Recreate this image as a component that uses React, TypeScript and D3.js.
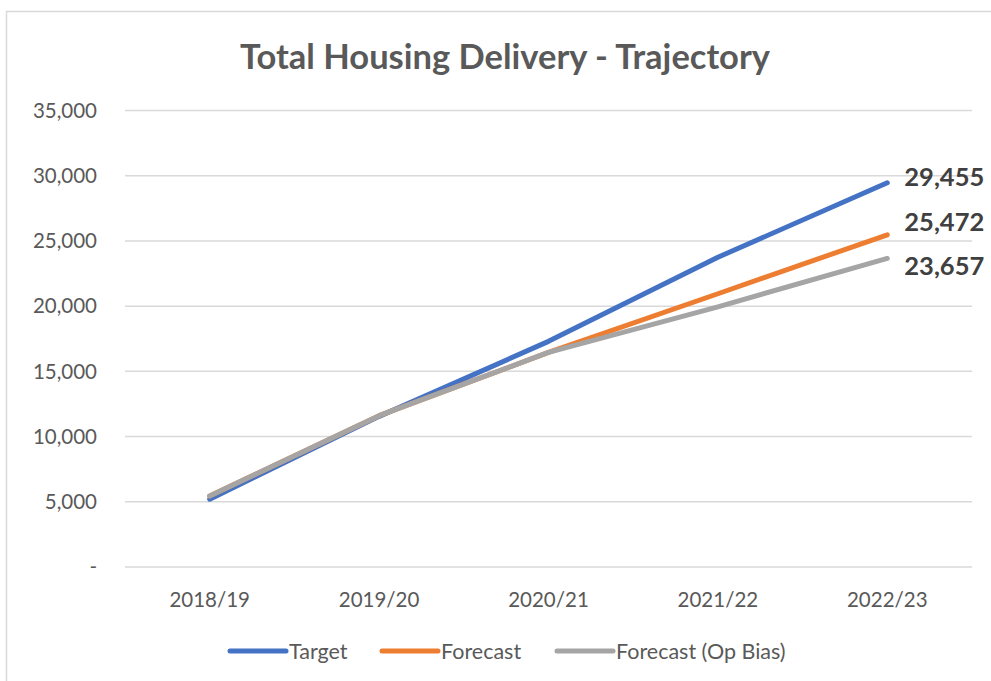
import React from "react";
import * as d3 from "d3";

const categories = ["2018/19", "2019/20", "2020/21", "2021/22", "2022/23"];
const targetValues = [5200, 11550, 17300, 23750, 29455];
const forecastValues = [5450, 11600, 16450, 20950, 25472];
const opBiasValues = [5450, 11600, 16450, 19950, 23657];
const seriesNames = ["Target", "Forecast", "Forecast (Op Bias)"];
const yTicks = [0, 5000, 10000, 15000, 20000, 25000, 30000, 35000];

const colors = ["#4472C4", "#ED7D31", "#A5A5A5"];
const labelDy = [-6, -13, 8];

export default function App() {
  const W = 991, H = 681;
  const left = 125, right = 972, top = 110.5, bottom = 567;
  const x = d3.scaleBand<string>().domain(categories).range([left, right]);
  const y = d3.scaleLinear().domain([0, 35000]).range([bottom, top]);
  const cx = (c: string) => (x(c) as number) + x.bandwidth() / 2;
  const series = [targetValues, forecastValues, opBiasValues];
  const line = d3.line<number>().x((_, i) => cx(categories[i])).y((v) => y(v));
  const fmt = d3.format(",");
  const font = "Lato, 'Open Sans', sans-serif";
  const legendX = [228, 380, 555];

  return (
    <svg width={W} height={H} style={{ position: "absolute", left: 0, top: 0 }} fontFamily={font}>
      <rect x={0} y={0} width={W} height={H} fill="#fff" />
      <rect x={6.5} y={11.5} width={W + 10} height={H + 10} fill="none" stroke="#d9d9d9" strokeWidth={1.5} />
      <text x={505} y={69} textAnchor="middle" fontSize={34.5} fontWeight={700} fill="#595959">
        Total Housing Delivery - Trajectory
      </text>
      {yTicks.map((t) => (
        <g key={t}>
          <line x1={left} x2={right} y1={y(t)} y2={y(t)} stroke="#d9d9d9" strokeWidth={1.5} />
          <text x={97} y={y(t)} dy="0.35em" textAnchor="end" fontSize={20.5} fill="#595959">
            {t === 0 ? "-" : fmt(t)}
          </text>
        </g>
      ))}
      {categories.map((c) => (
        <text key={c} x={cx(c)} y={600} dy="0.35em" textAnchor="middle" fontSize={20.5} fill="#595959">
          {c}
        </text>
      ))}
      {series.map((s, i) => (
        <path key={i} d={line(s) as string} fill="none" stroke={colors[i]} strokeWidth={5} strokeLinecap="round" strokeLinejoin="round" />
      ))}
      {series.map((s, i) => {
        const v = s[s.length - 1];
        return (
          <text key={"l" + i} x={cx(categories[categories.length - 1]) + 17} y={y(v) + labelDy[i]} dy="0.35em" fontSize={25.5} fontWeight={700} fill="#404040">
            {fmt(v)}
          </text>
        );
      })}
      {seriesNames.map((n, i) => (
        <g key={n}>
          <line x1={legendX[i] + 2} x2={legendX[i] + 58} y1={651} y2={651} stroke={colors[i]} strokeWidth={5} strokeLinecap="round" />
          <text x={legendX[i] + 61} y={651} dy="0.35em" fontSize={21.5} fill="#595959">
            {n}
          </text>
        </g>
      ))}
    </svg>
  );
}
